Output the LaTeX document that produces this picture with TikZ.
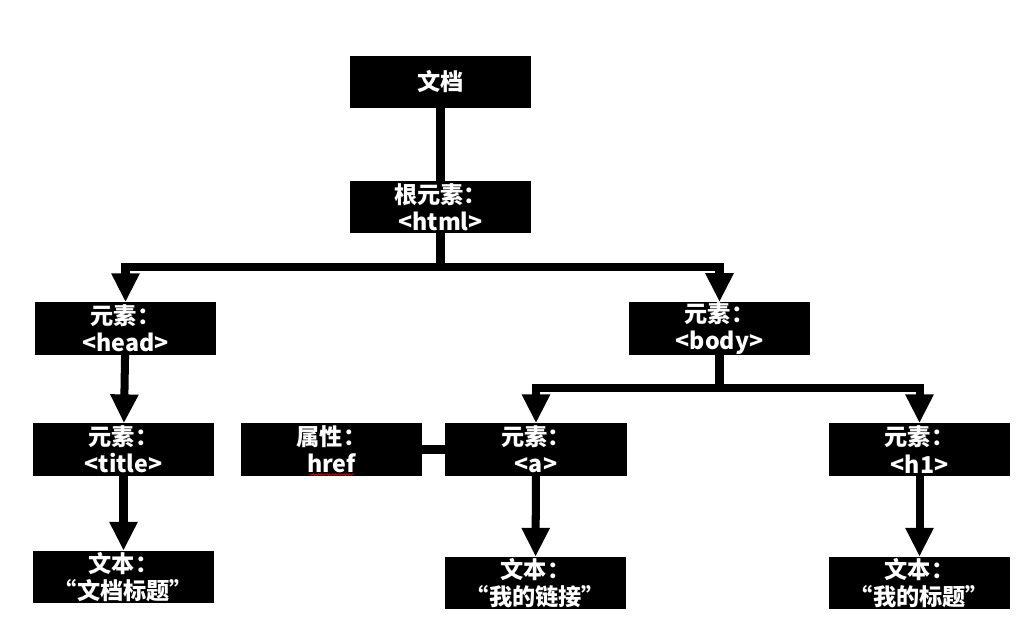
\documentclass[tikz,border=0pt]{standalone}
\usepackage{fontspec}
\setmainfont{Noto Sans CJK SC}
\usetikzlibrary{arrows.meta,decorations.pathmorphing}

\tikzset{
  box/.style={fill=black, text=white, font=\bfseries\fontsize{16.5}{19.5}\selectfont,
    minimum width=4.525cm, minimum height=1.3cm, inner sep=0pt, align=center},
  link/.style={line width=5.7pt},
  arrow/.style={link, -{Triangle[width=0.66cm,length=0.72cm]}},
}

\begin{document}
\begin{tikzpicture}[x=0.025cm, y=-0.025cm]
\useasboundingbox (0,0) rectangle (1034,631);

\node[box] (doc) at (440.5,82) {文档};
\node[box] (html) at (440.5,207) {根元素：\\<html>};
\node[box] (head) at (125.5,328.5) {元素：\\<head>};
\node[box] (body) at (719.5,328.5) {元素：\\<body>};
\node[box] (title) at (123.5,449.5) {元素：\\<title>};
\node[box] (attr) at (331.5,449.5) {属性：\\href};
\node[box] (a) at (536,449.5) {元素：\\<a>};
\node[box] (h1) at (919.5,449.5) {元素：\\<h1>};
\node[box] (ttext) at (123.5,577) {文本：\\“文档标题”};
\node[box] (atext) at (535.5,583) {文本：\\“我的链接”};
\node[box] (htext) at (919.5,583) {文本：\\“我的标题”};

\coordinate (fork1) at (440.5,267);
\coordinate (fork2) at (719.5,388);

\draw[link] (doc) -- (html);
\draw[link] (html) -- (fork1);
\draw[arrow] (fork1) -| (head);
\draw[arrow] (fork1) -| (body);
\draw[arrow] (head) -- (title);
\draw[link] (body) -- (fork2);
\draw[arrow] (fork2) -| (a);
\draw[arrow] (fork2) -| (h1);
\draw[link] (attr) -- (a);
\draw[arrow] (title) -- (ttext);
\draw[arrow] (a) -- (atext);
\draw[arrow] (h1) -- (htext);

% spell-check squiggle
\draw[red, line width=0.4pt, decorate, decoration={snake, amplitude=0.6pt, segment length=2pt}]
  ([xshift=-0.55cm, yshift=0.03cm]attr.south) -- ([xshift=0.55cm, yshift=0.03cm]attr.south);
\end{tikzpicture}
\end{document}
